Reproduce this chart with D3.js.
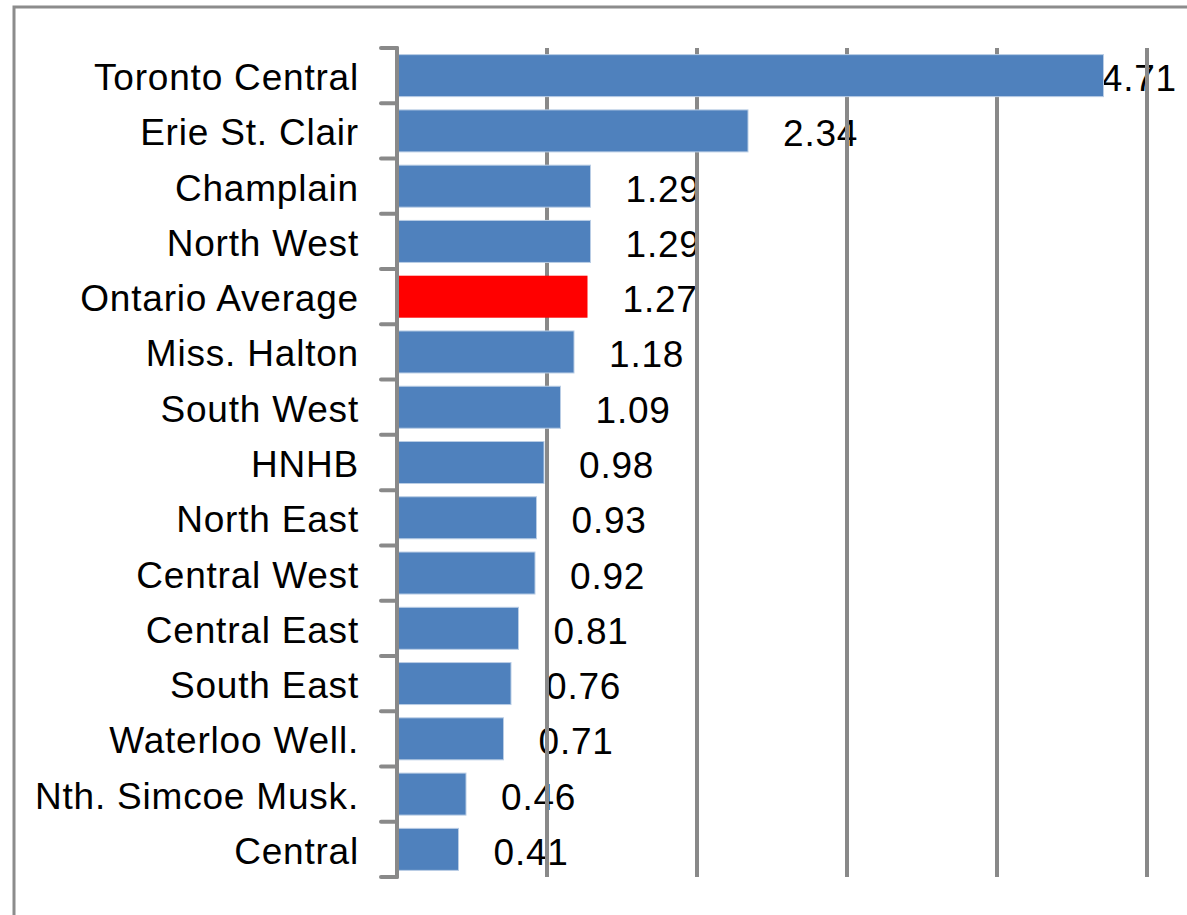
<!DOCTYPE html>
<html>
<head>
<meta charset="utf-8">
<script src="https://cdn.jsdelivr.net/npm/d3@7"></script>
<style>
  body { margin: 0; background: #fff; }
  svg { display: block; }
</style>
</head>
<body>
<svg></svg>
<script>
const regions = ["Toronto Central", "Erie St. Clair", "Champlain", "North West", "Ontario Average",
    "Miss. Halton", "South West", "HNHB", "North East", "Central West", "Central East",
    "South East", "Waterloo Well.", "Nth. Simcoe Musk.", "Central"];
const values = [4.71, 2.34, 1.29, 1.29, 1.27, 1.18, 1.09, 0.98, 0.93, 0.92, 0.81, 0.76, 0.71, 0.46, 0.41];
const highlight = "Ontario Average";
const gridTicks = [0, 1, 2, 3, 4, 5];

const W = 1187, H = 915;
const svg = d3.select('svg')
    .attr('width', W)
    .attr('height', H);

// chart frame (runs off the right and bottom of the window)
svg.append('rect')
    .attr('x', 14)
    .attr('y', 7)
    .attr('width', 1200)
    .attr('height', 950)
    .attr('fill', 'none')
    .attr('stroke', '#8c8c8c')
    .attr('stroke-width', 3);

const x = d3.scaleLinear().domain([0, 5]).range([397, 1147]);
const y = d3.scaleBand().domain(regions).range([48, 877]).paddingInner(0.24).paddingOuter(0.12);

const font = 'Liberation Sans, Arial, sans-serif';

// category labels
svg.append('g').selectAll('text')
    .data(regions)
    .join('text')
    .attr('x', 359)
    .attr('y', d => y(d) + y.bandwidth() / 2 + 2)
    .attr('text-anchor', 'end')
    .attr('dominant-baseline', 'central')
    .attr('font-family', font)
    .attr('font-size', 37)
    .attr('letter-spacing', 0.8)
    .attr('fill', '#000')
    .text(d => d);

// value labels
const labels = svg.append('g').selectAll('text')
    .data(values)
    .join('text')
    .attr('y', (d, i) => y(regions[i]) + y.bandwidth() / 2 + 3)
    .attr('dominant-baseline', 'central')
    .attr('font-family', font)
    .attr('font-size', 37)
    .attr('letter-spacing', 0.8)
    .attr('fill', '#000')
    .text(d => d.toFixed(2));
labels.each(function(d) {
    const w = this.getComputedTextLength();
    d3.select(this).attr('x', Math.min(x(d) + 35, 1177 - w));
});

// vertical gridlines
svg.append('g').selectAll('line')
    .data(gridTicks.slice(1))
    .join('line')
    .attr('x1', d => x(d))
    .attr('x2', d => x(d))
    .attr('y1', 48)
    .attr('y2', 877)
    .attr('stroke', '#898989')
    .attr('stroke-width', 4);

// bars
svg.append('g').selectAll('rect')
    .data(values)
    .join('rect')
    .attr('x', x(0))
    .attr('y', (d, i) => y(regions[i]))
    .attr('width', d => x(d) - x(0))
    .attr('height', y.bandwidth())
    .attr('fill', (d, i) => regions[i] === highlight ? '#ff0000' : '#4f81bd')
    .attr('stroke', (d, i) => regions[i] === highlight ? 'none' : '#b9cde5')
    .attr('stroke-width', 1);

// category axis with ticks between bands
const boundaries = regions.map(r => y(r) - y.step() * y.paddingInner() / 2);
boundaries.push(877);
svg.append('g').selectAll('line')
    .data(boundaries)
    .join('line')
    .attr('x1', 381)
    .attr('x2', 397)
    .attr('y1', d => d)
    .attr('y2', d => d)
    .attr('stroke', '#898989')
    .attr('stroke-width', 4)
    .attr('stroke-linecap', 'round');

svg.append('line')
    .attr('x1', 397)
    .attr('x2', 397)
    .attr('y1', 48)
    .attr('y2', 877)
    .attr('stroke', '#898989')
    .attr('stroke-width', 4)
    .attr('stroke-linecap', 'round');
</script>
</body>
</html>
